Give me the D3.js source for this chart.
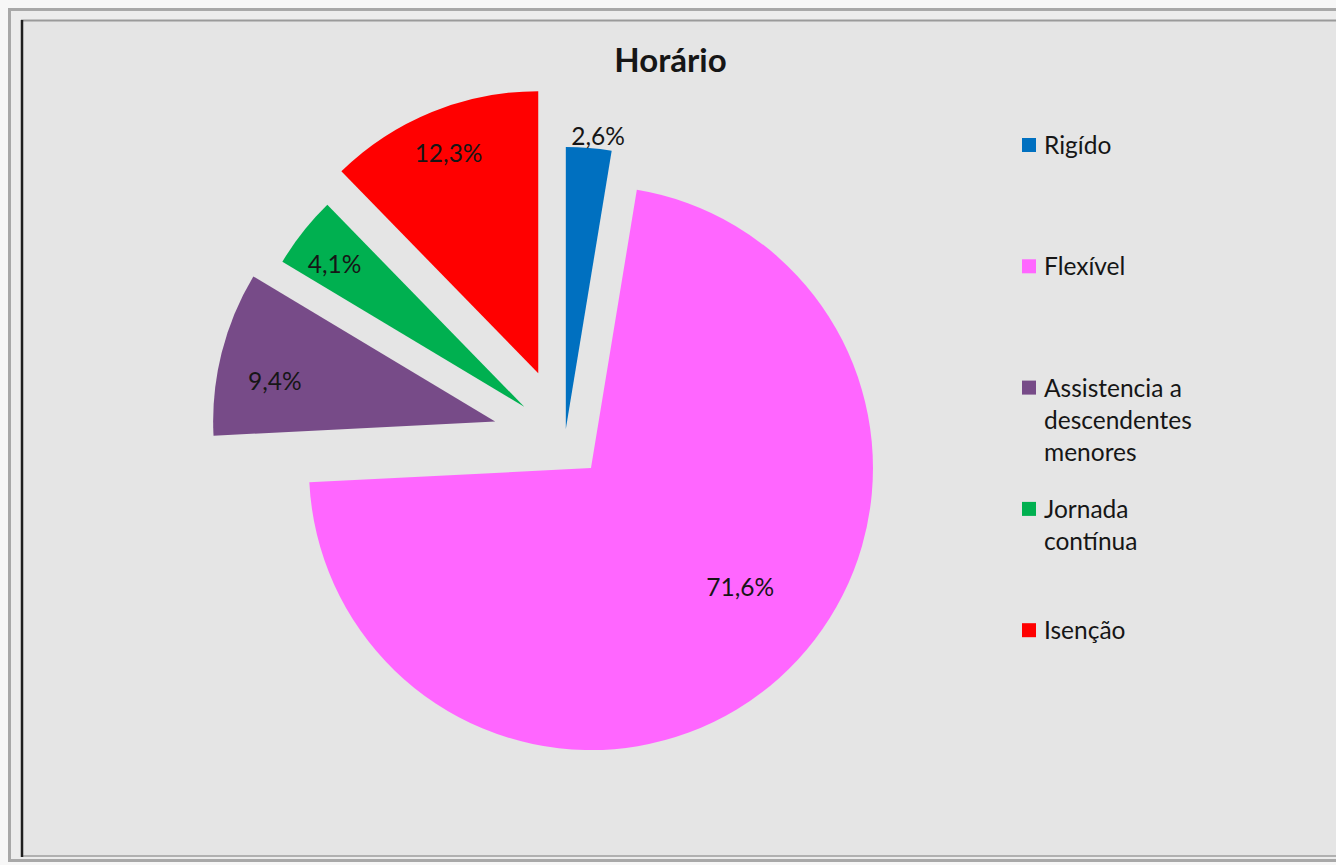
<!DOCTYPE html>
<html>
<head>
<meta charset="utf-8">
<script src="https://cdn.jsdelivr.net/npm/d3@7"></script>
<style>
  html, body { margin: 0; padding: 0; background: #ffffff; }
  svg { display: block; }
  text { font-family: Lato, "Open Sans", sans-serif; fill: #161616; }
</style>
</head>
<body>
<svg id="chart" width="1336" height="865"></svg>
<script>
// ---- data ----
const title = "Horário";
const categories = ["Rigído", "Flexível", "Assistencia a descendentes menores", "Jornada contínua", "Isenção"];
const values = [2.6, 71.6, 9.4, 4.1, 12.3];
const valueLabels = ["2,6%", "71,6%", "9,4%", "4,1%", "12,3%"];
const colors = ["#0070C0", "#FF66FF", "#774B88", "#00B050", "#FF0000"];

// ---- layout config ----
const cx = 565, cy = 439, R = 282;
const explode = [10, 39, 72, 52, 71];
const labelDist = [295, 191, 224, 237, 238];
const labelAngleShift = [1.6, -9.6, -3.7, -1.5, 0]; // degrees

const svg = d3.select("#chart");
const W = 1336, H = 865;

// frame
svg.append("rect").attr("x", 0).attr("y", 0).attr("width", W).attr("height", H).attr("fill", "#f7f7f7");
svg.append("rect").attr("x", 9.5).attr("y", 9.5).attr("width", W + 20).attr("height", 851).attr("fill", "#ececec").attr("stroke", "#a8a8a8").attr("stroke-width", 3);
svg.append("rect").attr("x", 21).attr("y", 20).attr("width", W).attr("height", 836).attr("fill", "#e5e5e5");
svg.append("line").attr("x1", 21).attr("x2", W).attr("y1", 20.5).attr("y2", 20.5).attr("stroke", "#9a9a9a").attr("stroke-width", 2);
svg.append("line").attr("x1", 21).attr("x2", W).attr("y1", 856).attr("y2", 856).attr("stroke", "#b0b0b0").attr("stroke-width", 2);
svg.append("line").attr("x1", 22).attr("x2", 22).attr("y1", 20).attr("y2", 857).attr("stroke", "#1e1e1e").attr("stroke-width", 2.5);

// title
svg.append("text")
  .attr("x", 670.5).attr("y", 71.5)
  .attr("text-anchor", "middle")
  .style("font-size", "33px").style("font-weight", "bold")
  .text(title);

// pie
const pie = d3.pie().sort(null).value(d => d).startAngle(0).endAngle(2 * Math.PI);
const arcs = pie(values);
const arc = d3.arc().innerRadius(0).outerRadius(R);

const g = svg.append("g").attr("transform", `translate(${cx},${cy})`);

arcs.forEach((a, i) => {
  const mid = (a.startAngle + a.endAngle) / 2;
  const ox = explode[i] * Math.sin(mid), oy = -explode[i] * Math.cos(mid);
  const sg = g.append("g").attr("transform", `translate(${ox},${oy})`);
  sg.append("path").attr("d", arc(a)).attr("fill", colors[i]);
  const la = mid + labelAngleShift[i] * Math.PI / 180;
  sg.append("text")
    .attr("x", labelDist[i] * Math.sin(la))
    .attr("y", -labelDist[i] * Math.cos(la))
    .attr("dy", "0.36em")
    .attr("text-anchor", "middle")
    .style("font-size", "24.5px")
    .text(valueLabels[i]);
});

// legend
const legX = 1022, legTextX = 1044, legBase0 = 154, legStep = 121.3, lineH = 32.3, wrapW = 170;
const lg = svg.append("g");
categories.forEach((c, i) => {
  const base = legBase0 + i * legStep;
  lg.append("rect").attr("x", legX).attr("y", base - 16).attr("width", 14).attr("height", 14).attr("fill", colors[i]);
  const t = lg.append("text").attr("x", legTextX).attr("y", base).style("font-size", "24.5px");
  const words = c.split(" ");
  let line = [], lineNo = 0;
  let tspan = t.append("tspan").attr("x", legTextX).attr("y", base);
  words.forEach(w => {
    line.push(w);
    tspan.text(line.join(" "));
    if (tspan.node().getComputedTextLength() > wrapW && line.length > 1) {
      line.pop();
      tspan.text(line.join(" "));
      line = [w];
      lineNo++;
      tspan = t.append("tspan").attr("x", legTextX).attr("y", base + lineNo * lineH).text(w);
    }
  });
});
</script>
</body>
</html>
